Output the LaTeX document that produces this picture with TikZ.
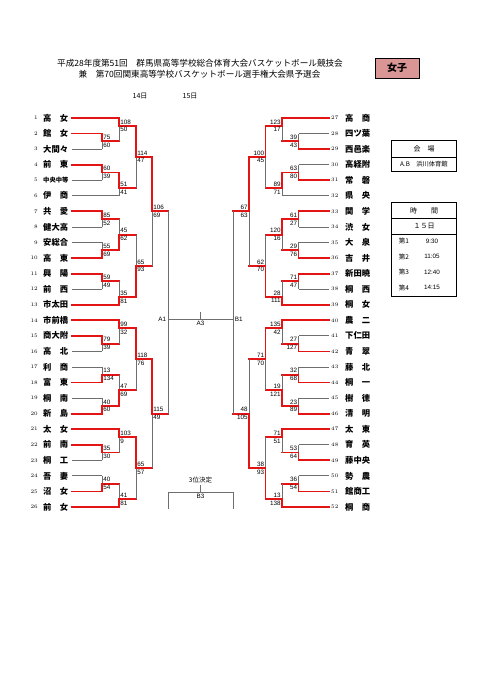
\documentclass[tikz,border=0pt]{standalone}
\usepackage{fontspec}
\newfontfamily\jp{Noto Sans CJK JP}
\newfontfamily\arial{Liberation Sans}
\definecolor{rouge}{RGB}{228,20,20}
\definecolor{gris}{RGB}{110,110,110}
\definecolor{rose}{RGB}{217,150,148}
\newcommand{\rangy}[1]{118+7.78*#1}
\begin{document}
\begin{tikzpicture}[x=1pt,y=-1pt]

% définition des styles
\tikzstyle{gagne}=[draw=rouge,line width=1.8pt,line cap=rect]
\tikzstyle{perd}=[draw=gris,line width=0.8pt]
\tikzstyle{score}=[font=\arial\fontsize{6.3}{7}\selectfont,inner sep=0.6pt]
\tikzstyle{equipe}=[font=\jp\bfseries\fontsize{8.3}{9}\selectfont,inner sep=0pt,anchor=west]
\tikzstyle{numero}=[font=\fontsize{5.3}{6}\selectfont,inner sep=0pt]
\tikzstyle{texte}=[font=\jp\fontsize{7}{8}\selectfont,inner sep=0pt]
\tikzstyle{cadre}=[draw,line width=1pt]

\fill[white] (0,0) rectangle (481,680);
\useasboundingbox (0,0) rectangle (481,680);

% en-tête
\node[font=\jp\fontsize{8.6}{9}\selectfont,inner sep=0pt] (titre1) at (200,63) {平成28年度第51回　群馬県高等学校総合体育大会バスケットボール競技会};
\node[font=\jp\fontsize{8.6}{9}\selectfont,inner sep=0pt] (titre2) at (199.5,74) {兼　第70回関東高等学校バスケットボール選手権大会県予選会};
\node[cadre,fill=rose,minimum width=44pt,minimum height=20pt,font=\jp\bfseries\fontsize{10}{12}\selectfont] (sexe) at (397,68) {女子};
\node[texte] (jour14) at (140,96) {14日};
\node[texte] (jour15) at (190,96) {15日};

% les équipes de gauche
\foreach \i/\nom/\r/\c in {1/高　女/119/gagne, 2/館　女/102/gagne, 3/大間々/102/perd,
  4/前　東/102/gagne, 5/{\fontsize{6.3}{7}\selectfont 中央中等}/102/perd, 6/伊　商/119/perd,
  7/共　愛/102/gagne, 8/健大高/102/perd, 9/安総合/102/perd, 10/高　東/102/gagne,
  11/興　陽/102/gagne, 12/前　西/102/perd, 13/市太田/119/gagne, 14/市前橋/119/gagne,
  15/商大附/102/gagne, 16/高　北/102/perd, 17/利　商/102/perd, 18/富　東/102/gagne,
  19/桐　南/102/perd, 20/新　島/102/gagne, 21/太　女/119/gagne, 22/前　南/102/gagne,
  23/桐　工/102/perd, 24/吾　妻/102/perd, 25/沼　女/102/gagne, 26/前　女/119/gagne}
{
  \node[numero,anchor=east] (n\i) at (38,{118+15.56*(\i-1)}) {\i};
  \node[equipe] (e\i) at (43,{118+15.56*(\i-1)}) {\nom};
  \coordinate (d\i) at (72,{118+15.56*(\i-1)});
  \draw[\c] (d\i) -- (\r,{118+15.56*(\i-1)});
}

% les équipes de droite
\foreach \i/\nom/\r/\c in {27/高　商/282/gagne, 28/四ツ葉/298.5/perd, 29/西邑楽/298.5/gagne,
  30/高経附/298.5/perd, 31/常　磐/298.5/gagne, 32/県　央/282/perd, 33/関　学/298.5/gagne,
  34/渋　女/298.5/perd, 35/大　泉/298.5/perd, 36/吉　井/298.5/gagne, 37/新田暁/298.5/gagne,
  38/桐　西/298.5/perd, 39/桐　女/282/gagne, 40/農　二/282/gagne, 41/下仁田/298.5/perd,
  42/青　翠/298.5/gagne, 43/藤　北/298.5/perd, 44/桐　一/298.5/gagne, 45/樹　徳/298.5/perd,
  46/清　明/298.5/gagne, 47/太　東/282/gagne, 48/育　英/298.5/perd, 49/藤中央/298.5/gagne,
  50/勢　農/298.5/perd, 51/館商工/298.5/gagne, 52/桐　商/282/gagne}
{
  \node[numero,anchor=west] (n\i) at (331,{118+15.56*(\i-27)}) {\i};
  \node[equipe] (e\i) at (345,{118+15.56*(\i-27)}) {\nom};
  \coordinate (d\i) at (329,{118+15.56*(\i-27)});
  \draw[\c] (d\i) -- (\r,{118+15.56*(\i-27)});
}

% les matchs de gauche
\foreach \x/\ya/\yb/\yo/\yw/\xn/\sa/\sb [count=\n] in {102/2/4/3/2/119/75/60,
  119/0/3/1/0/136/108/50, 102/6/8/7/6/119/60/39, 119/7/10/9/7/136/51/41,
  136/1/9/5/1/152/114/47, 102/12/14/13/12/119/85/52, 102/16/18/17/18/119/55/69,
  119/13/17/15/17/136/45/62, 102/20/22/21/20/119/59/49, 119/21/24/23/24/136/35/81,
  136/15/23/19/23/152/65/93, 152/5/19/12/5/168/106/69, 102/28/30/29/28/119/79/39,
  119/26/29/27/26/136/99/32, 102/32/34/33/34/119/13/134, 102/36/38/37/38/119/40/60,
  119/33/37/35/37/136/47/69, 136/27/35/31/27/152/118/76, 102/42/44/43/42/119/35/30,
  119/40/43/41/40/136/103/9, 102/46/48/47/48/119/40/54, 119/47/50/49/50/136/41/81,
  136/41/49/45/41/152/65/57, 152/31/45/38/31/168/115/49}
{
  \coordinate (mg\n) at (\x,{\rangy{\yo}});
  \draw[perd] (\x,{\rangy{\ya}}) -- (\x,{\rangy{\yb}});
  \draw[gagne] (\x,{\rangy{\yw}}) -- (mg\n) -- (\xn,{\rangy{\yo}});
  \node[score,anchor=south west,xshift=0.6pt,yshift=0.9pt] (hg\n) at (mg\n) {\sa};
  \node[score,anchor=north west,xshift=0.6pt,yshift=-0.9pt] (bg\n) at (mg\n) {\sb};
}

% les matchs de droite
\foreach \x/\ya/\yb/\yo/\yw/\xn/\sa/\sb [count=\n] in {298.5/2/4/3/4/282/39/43,
  282/0/3/1/0/265.5/123/17, 298.5/6/8/7/8/282/63/80, 282/7/10/9/7/265.5/89/71,
  265.5/1/9/5/1/249/100/45, 298.5/12/14/13/12/282/61/27, 298.5/16/18/17/18/282/29/76,
  282/13/17/15/13/265.5/120/16, 298.5/20/22/21/20/282/71/47, 282/21/24/23/24/265.5/28/111,
  265.5/15/23/19/23/249/62/70, 249/5/19/12/5/233/67/63, 298.5/28/30/29/30/282/27/127,
  282/26/29/27/26/265.5/135/42, 298.5/32/34/33/34/282/32/68, 298.5/36/38/37/38/282/23/89,
  282/33/37/35/37/265.5/19/121, 265.5/27/35/31/27/249/71/70, 298.5/42/44/43/44/282/53/64,
  282/40/43/41/40/265.5/71/51, 298.5/46/48/47/48/282/36/54, 282/47/50/49/50/265.5/13/138,
  265.5/41/49/45/49/249/38/93, 249/31/45/38/45/233/48/105}
{
  \coordinate (md\n) at (\x,{\rangy{\yo}});
  \draw[perd] (\x,{\rangy{\ya}}) -- (\x,{\rangy{\yb}});
  \draw[gagne] (\x,{\rangy{\yw}}) -- (md\n) -- (\xn,{\rangy{\yo}});
  \node[score,anchor=south east,xshift=-0.6pt,yshift=0.9pt] (hd\n) at (md\n) {\sa};
  \node[score,anchor=north east,xshift=-0.6pt,yshift=-0.9pt] (bd\n) at (md\n) {\sb};
}

% la finale
\coordinate (a1) at (168,319);
\coordinate (b1) at (233,319);
\coordinate (a3) at (200.5,319);
\draw[perd] (168,{\rangy{12}}) -- (168,{\rangy{38}});
\draw[perd] (233,{\rangy{12}}) -- (233,{\rangy{38}});
\draw[perd] (a1) -- (b1);
\draw[perd] (a3) -- ++(0,-7);
\node[score,anchor=east,xshift=-1pt] (la1) at (a1) {A1};
\node[score,anchor=west,xshift=1pt] (lb1) at (b1) {B1};
\node[score,anchor=north,yshift=-1pt] (la3) at (a3) {A3};

% 3位決定
\coordinate (g3) at (168,492);
\coordinate (d3) at (233,492);
\coordinate (c3) at (200.5,492);
\draw[perd] (g3) -- (d3);
\draw[perd] (g3) -- ++(0,17);
\draw[perd] (d3) -- ++(0,17);
\draw[perd] (c3) -- ++(0,-7);
\node[texte,font=\jp\fontsize{6.5}{7}\selectfont] (troisieme) at (200.5,480) {3位決定};
\node[score,anchor=north,yshift=-1pt] (lb3) at (c3) {B3};

% les tableaux
\draw[cadre] (391,140) rectangle (456.7,171.7);
\draw[line width=0.8pt] (391,157.3) -- (456.7,157.3);
\node[texte] (salle) at (424,148.7) {会　場};
\node[texte,font=\jp\fontsize{6.3}{7}\selectfont] (lieu) at (424,164.5) {A.B　浜川体育館};

\draw[cadre] (391,202.7) rectangle (456.7,296);
\draw[line width=0.8pt] (391,218.3) -- (456.7,218.3);
\draw[line width=0.8pt] (391,234) -- (456.7,234);
\node[texte] (heure) at (424,210.5) {時　　間};
\node[texte] (jour) at (424,226.2) {１５日};
\foreach \k/\h [count=\j] in {1/9:30, 2/11:05, 3/12:40, 4/14:15}
{
  \node[texte,font=\jp\fontsize{6.5}{7}\selectfont] (tour\j) at (404,{241+15.6*(\j-1)}) {第\k};
  \node[score] (h\j) at (432,{241+15.6*(\j-1)}) {\h};
}

\end{tikzpicture}
\end{document}
